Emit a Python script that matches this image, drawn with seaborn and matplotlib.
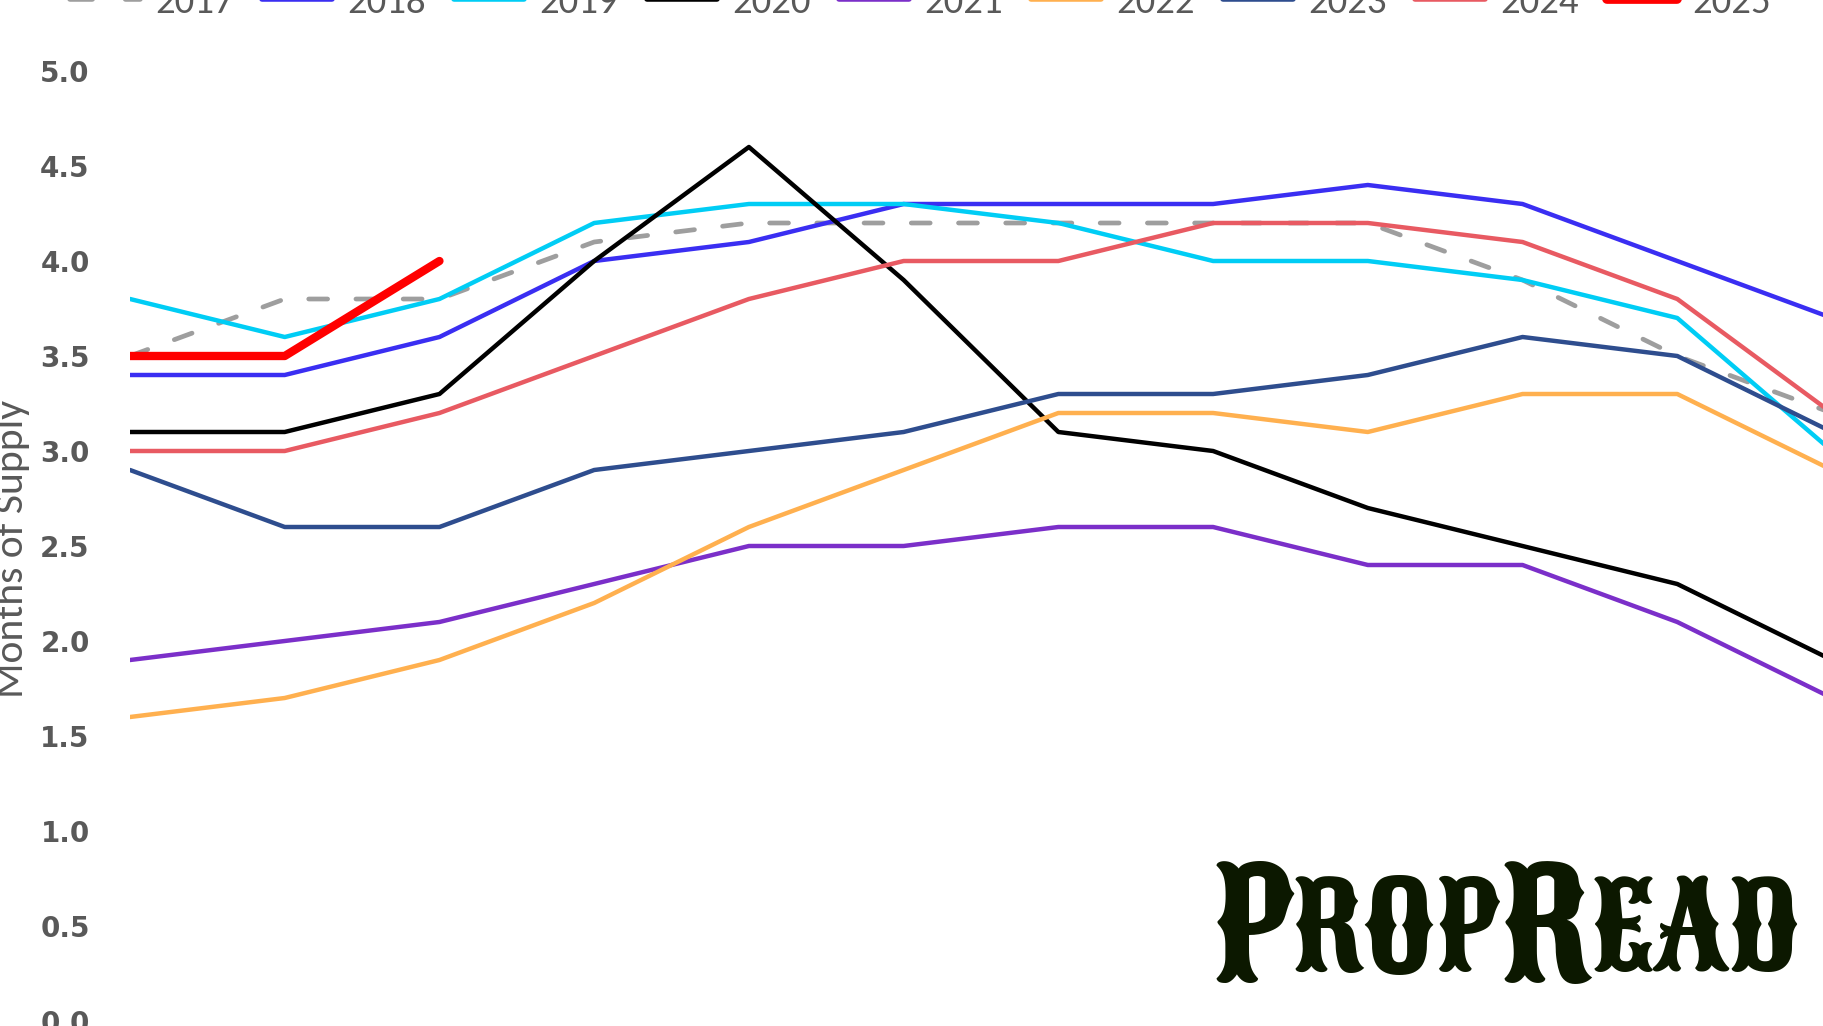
import matplotlib
matplotlib.use("Agg")
import matplotlib.pyplot as plt
import matplotlib.font_manager as fm
from matplotlib.ticker import FormatStrFormatter
from matplotlib.offsetbox import TextArea, HPacker, AnchoredOffsetbox
import pandas as pd
import seaborn as sns

# monthly months-of-supply, one list per year
months = ["Jan", "Feb", "Mar", "Apr", "May", "Jun", "Jul", "Aug", "Sep", "Oct", "Nov", "Dec"]
y2017 = [3.5, 3.8, 3.8, 4.1, 4.2, 4.2, 4.2, 4.2, 4.2, 3.9, 3.5, 3.2]
y2018 = [3.4, 3.4, 3.6, 4.0, 4.1, 4.3, 4.3, 4.3, 4.4, 4.3, 4.0, 3.7]
y2019 = [3.8, 3.6, 3.8, 4.2, 4.3, 4.3, 4.2, 4.0, 4.0, 3.9, 3.7, 3.0]
y2020 = [3.1, 3.1, 3.3, 4.0, 4.6, 3.9, 3.1, 3.0, 2.7, 2.5, 2.3, 1.9]
y2021 = [1.9, 2.0, 2.1, 2.3, 2.5, 2.5, 2.6, 2.6, 2.4, 2.4, 2.1, 1.7]
y2022 = [1.6, 1.7, 1.9, 2.2, 2.6, 2.9, 3.2, 3.2, 3.1, 3.3, 3.3, 2.9]
y2023 = [2.9, 2.6, 2.6, 2.9, 3.0, 3.1, 3.3, 3.3, 3.4, 3.6, 3.5, 3.1]
y2024 = [3.0, 3.0, 3.2, 3.5, 3.8, 4.0, 4.0, 4.2, 4.2, 4.1, 3.8, 3.2]
y2025 = [3.5, 3.5, 4.0]

series = {"2017": y2017, "2018": y2018, "2019": y2019, "2020": y2020, "2021": y2021,
          "2022": y2022, "2023": y2023, "2024": y2024, "2025": y2025}
colors = {"2017": "#9E9E9E", "2018": "#3A2EF2", "2019": "#00CDF5", "2020": "#000000",
          "2021": "#7B2FC9", "2022": "#FFB04F", "2023": "#2E4D8E", "2024": "#E85A62",
          "2025": "#FF0000"}

rows = []
for yr, vals in series.items():
    for m, v in zip(months, vals):
        rows.append({"month": m, "year": yr, "value": v})
df = pd.DataFrame(rows)

AVAIL = {f.name for f in fm.fontManager.ttflist}


def pick_font(cands, fallback="DejaVu Sans"):
    for c in cands:
        if c in AVAIL:
            return c
    return fallback


sns.set_style("white")
narrow = pick_font(["Carlito", "Open Sans Condensed", "Liberation Sans Narrow"])
logo_font = pick_font(["Sancreek", "Stint Ultra Condensed", "Rye", "Alfa Slab One"], "DejaVu Serif")
GRAY = "#595959"

fig = plt.figure(figsize=(18.24, 10.26), dpi=100)
ax = fig.add_axes([130 / 1824, 5 / 1026, (1832 - 130) / 1824, 950 / 1026])

sizes = {yr: 3.2 for yr in series}
sizes["2017"] = 3.4
sizes["2025"] = 6.0
dashes = {yr: "" for yr in series}
dashes["2017"] = (4, 6.0)

sns.lineplot(data=df, x="month", y="value", hue="year", size="year", style="year",
             palette=colors, sizes=sizes, dashes=dashes, sort=False, ax=ax,
             legend="full")

handles, labels = ax.get_legend_handles_labels()
ax.get_legend().remove()

# make sure widths / caps follow the mapping (excel-like round dashes for 2017)
for line, yr in zip(ax.lines, series):
    line.set_linewidth(sizes[yr])
    if yr == "2017":
        line.set_dash_capstyle("round")

ax.set_xlim(0, 11)
ax.set_ylim(0, 5)
ax.set_yticks([0, 0.5, 1, 1.5, 2, 2.5, 3, 3.5, 4, 4.5, 5])
ax.yaxis.set_major_formatter(FormatStrFormatter("%.1f"))
ax.set_xticks([])
ax.set_xlabel("")
ax.set_ylabel("")
for s in ax.spines.values():
    s.set_visible(False)
ax.tick_params(axis="y", length=0, pad=29, labelsize=20, labelcolor=GRAY)
for t in ax.get_yticklabels():
    t.set_fontweight("bold")

fig.text(12 / 1824, (1026 - 549) / 1026, "Months of Supply", rotation=90,
         ha="center", va="center", fontsize=30, color=GRAY, family=narrow)

# legend sits mostly above the top edge, as in the cropped source image
leg = fig.legend(handles, labels, loc="center left", bbox_to_anchor=(70 / 1824, 1 - 2.5 / 1026),
                 ncol=9, frameon=False, handlelength=1.8, handletextpad=0.39,
                 columnspacing=0.73, borderaxespad=0, borderpad=0, labelcolor=GRAY,
                 prop={"family": narrow, "size": 28})
for h, lab in zip(leg.legend_handles, labels):
    h.set_linewidth(7 if lab == "2025" else 4)
    if lab == "2017":
        h.set_dash_capstyle("round")

# PropRead watermark: large P / R, small caps for the rest
big = dict(family=logo_font, size=111, color="#0C1800")
small = dict(family=logo_font, size=87, color="#0C1800")
logo = HPacker(children=[TextArea("P", textprops=big), TextArea("ROP", textprops=small),
                         TextArea("R", textprops=big), TextArea("EAD", textprops=small)],
               align="center", pad=0, sep=0)
box = AnchoredOffsetbox(loc="center right", child=logo, frameon=False, pad=0, borderpad=0,
                        bbox_to_anchor=(1800 / 1824, (1026 - 932) / 1026),
                        bbox_transform=fig.transFigure)
ax.add_artist(box)

fig.savefig("out.png", dpi=100, facecolor="white")
